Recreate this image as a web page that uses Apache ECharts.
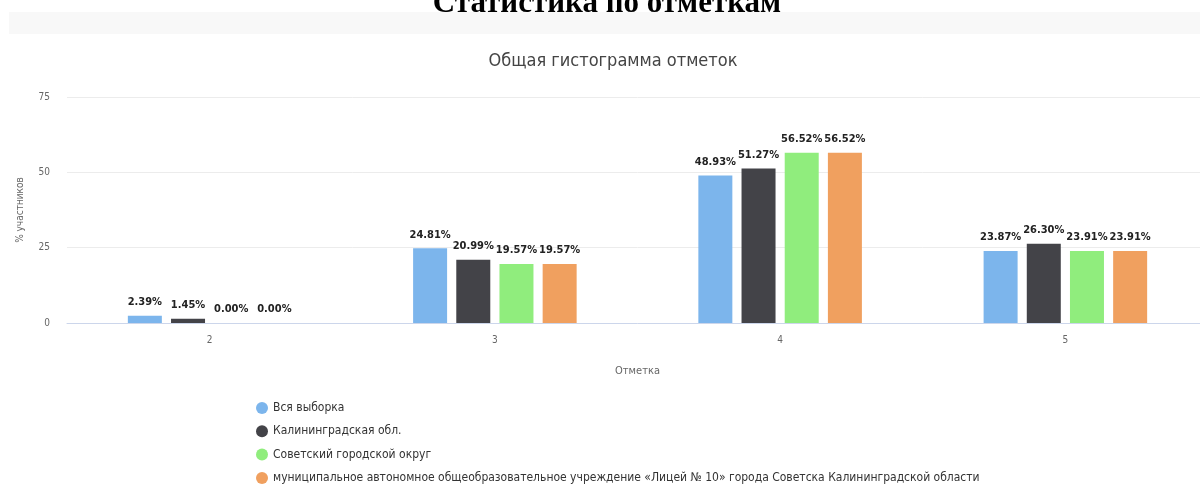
<!DOCTYPE html>
<html>
<head>
<meta charset="utf-8">
<script src="https://cdn.jsdelivr.net/npm/echarts@6/dist/echarts.min.js"></script>
<style>
html,body{margin:0;padding:0;background:#fff;overflow:hidden;width:1200px;height:486px;}
#c{width:1212px;height:486px;}
</style>
</head>
<body>
<div id="c"></div>
<script>
const categories = ['2', '3', '4', '5'];
const seriesNames = [
  'Вся выборка',
  'Калининградская обл.',
  'Советский городской округ',
  'муниципальное автономное общеобразовательное учреждение «Лицей № 10» города Советска Калининградской области'
];
const allSample = [2.39, 24.81, 48.93, 23.87];
const kaliningrad = [1.45, 20.99, 51.27, 26.30];
const sovetsk = [0.00, 19.57, 56.52, 23.91];
const lyceum = [0.00, 19.57, 56.52, 23.91];
const yTicks = [0, 25, 50, 75];
const colors = ['#7cb5ec', '#434348', '#90ed7d', '#f0a05f'];

const narrow = '"DejaVu Sans Condensed", "Liberation Sans Narrow", sans-serif';
const values = [allSample, kaliningrad, sovetsk, lyceum];

const chart = echarts.init(document.getElementById('c'));
chart.setOption({
  animation: false,
  backgroundColor: '#fff',
  color: colors,
  title: [{
    text: 'Статистика по отметкам',
    left: 602,
    textAlign: 'center',
    top: -17,
    textStyle: {fontFamily: '"Liberation Serif", "DejaVu Serif", serif', fontWeight: 'bold', fontSize: 31, color: '#000'}
  }, {
    text: 'Общая гистограмма отметок',
    left: 608,
    textAlign: 'center',
    top: 47,
    textStyle: {fontFamily: narrow, fontWeight: 'normal', fontSize: 18, color: '#444'}
  }],
  graphic: [{
    type: 'rect',
    z: -10,
    shape: {x: 9, y: 12, width: 1203, height: 22},
    style: {fill: '#f8f8f8'}
  }],
  legend: {
    orient: 'vertical',
    left: 256,
    top: 402,
    padding: 0,
    itemGap: 11.3,
    itemWidth: 12,
    itemHeight: 12,
    icon: 'circle',
    textStyle: {fontFamily: narrow, fontSize: 12, color: '#333'},
    data: seriesNames
  },
  grid: {left: 67, width: 1141, top: 97, bottom: 163, containLabel: false},
  xAxis: {
    type: 'category',
    data: categories,
    name: 'Отметка',
    nameLocation: 'middle',
    nameGap: 43,
    nameTextStyle: {fontFamily: narrow, fontSize: 11, color: '#666'},
    axisLine: {lineStyle: {color: '#ccd6eb'}},
    axisTick: {show: false},
    axisLabel: {fontFamily: narrow, fontSize: 10, color: '#666', margin: 12}
  },
  yAxis: {
    type: 'value',
    min: 0,
    max: 75,
    interval: 25,
    name: '% участников',
    nameLocation: 'middle',
    nameGap: 42,
    nameTextStyle: {fontFamily: narrow, fontSize: 10, color: '#666'},
    axisLine: {show: false},
    axisTick: {show: false},
    axisLabel: {fontFamily: narrow, fontSize: 10, color: '#666', margin: 17,
      formatter: v => yTicks.includes(v) ? String(v) : ''},
    splitLine: {lineStyle: {color: '#ececec'}}
  },
  series: seriesNames.map((name, i) => ({
    name: name,
    type: 'bar',
    data: values[i],
    barWidth: 34,
    barGap: '27%',
    itemStyle: {color: colors[i]},
    label: {
      show: true,
      position: 'top',
      distance: 8,
      fontFamily: narrow,
      fontWeight: 'bold',
      fontSize: 11,
      color: '#222',
      formatter: p => p.value.toFixed(2) + '%'
    }
  }))
});
</script>
</body>
</html>
